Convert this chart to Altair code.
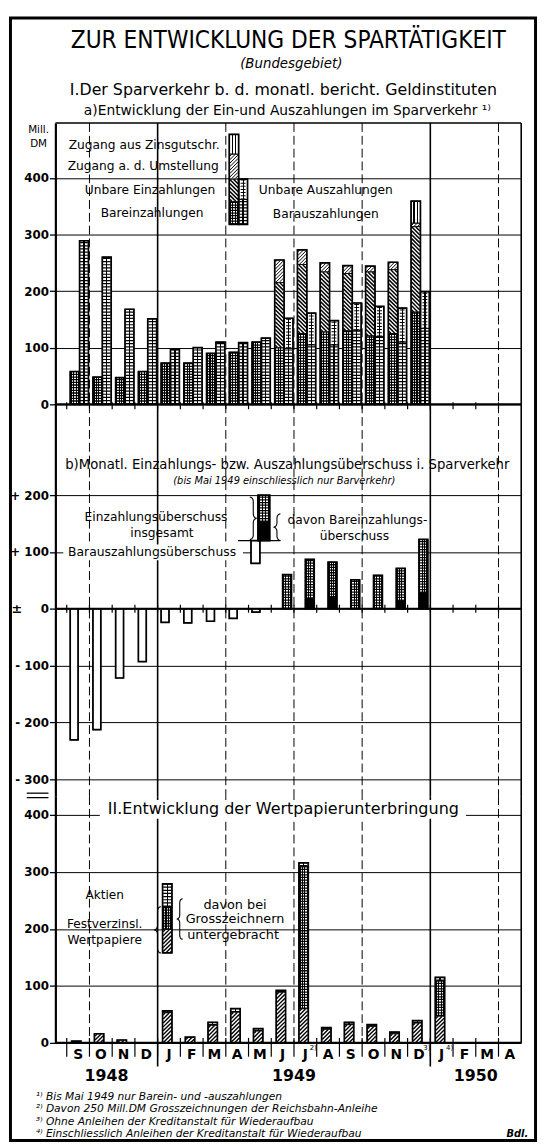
import altair as alt
import numpy as np
import pandas as pd

# ------------------------------------------------------------------ values (Mill. DM)
month_labels = ["S", "O", "N", "D", "J", "F", "M", "A", "M", "J",
                "J", "A", "S", "O", "N", "D", "J", "F", "M", "A"]
month_notes = ["", "", "", "", "", "", "", "", "", "",
               "2)", "", "", "", "", "3)", "4)", "", "", ""]
year_labels = ["1948", "1949", "1950"]
year_centers = [1.25, 9.5, 17.5]
quarter_solid = [3.5, 15.5]
quarter_dashed = [0.5, 6.5, 9.5, 12.5, 18.5]

# I a) Sep 1948 - Dec 1949
bar_ein = [58, 48, 47, 58, 73, 73, 90, 92, 110, 100, 125, 128, 130, 121, 125, 163]
unbar_ein = [0, 0, 0, 0, 0, 0, 0, 0, 0, 115, 122, 106, 101, 113, 113, 151]
umstellung = [0, 0, 0, 0, 0, 0, 0, 0, 0, 40, 26, 16, 14, 10, 13, 6]
zinsgutschr = [0, 0, 0, 0, 0, 0, 0, 0, 0, 0, 0, 0, 0, 0, 0, 39]
bar_aus = [289, 260, 168, 151, 97, 100, 110, 109, 117, 99, 105, 105, 131, 120, 110, 134]
unbar_aus = [0, 0, 0, 0, 0, 0, 0, 0, 0, 53, 56, 43, 48, 53, 60, 65]
legend_a_ein = [40, 40, 44, 35]
legend_a_aus = [44, 36]
legend_a_base = 318
legend_a_month = 7

# I b)
aus_ueberschuss = [-231, -213, -122, -93, -24, -25, -22, -17, -6]   # Sep 48 - May 49
ein_ueberschuss = [60, 87, 82, 51, 59, 71, 122]                       # Jun 49 - Dec 49
bar_ein_ueberschuss = [0, 18, 20, 0, 0, 14, 28]
legend_b_base = 120
legend_b_ein = [33, 47]
legend_b_aus = -40
legend_b_month = 8

# II  Sep 1948 - Jan 1950
festverz = [3, 16, 5, 0, 53, 10, 31, 54, 21, 89, 60, 24, 32, 29, 16, 35, 47]
grosszeichner = [0, 0, 0, 0, 0, 0, 0, 0, 0, 0, 250, 0, 0, 0, 0, 0, 62]
aktien = [0, 0, 0, 0, 3, 0, 5, 6, 4, 3, 6, 3, 4, 3, 3, 4, 6]
legend_c = [41, 40, 40]
legend_c_base = 158
legend_c_month = 4

footnotes = [
    "¹⁾ Bis Mai 1949 nur Barein- und -auszahlungen",
    "²⁾ Davon 250 Mill.DM Grosszeichnungen der Reichsbahn-Anleihe",
    "³⁾ Ohne Anleihen der Kreditanstalt für Wiederaufbau",
    "⁴⁾ Einschliesslich Anleihen der Kreditanstalt für Wiederaufbau",
]

# ------------------------------------------------------------------ geometry
FONT = "DejaVu Sans"
LEFT = 55.0
W = 472.0
XMIN, XMAX = -1.0, 19.5
KX = W / (XMAX - XMIN)
XSC = alt.Scale(domain=[XMIN, XMAX], nice=False, zero=False)


def dx(px):
    return XMIN + (px - LEFT) / KX


def pxx(x):
    return LEFT + (x - XMIN) * KX


def off(p):
    return p / KX


def make_axis(values, label_expr=None):
    kw = dict(values=values, title=None, grid=True, gridColor="black", gridWidth=1, gridOpacity=1,
              domain=True, domainColor="black", domainWidth=2.2, ticks=True, tickColor="black",
              tickWidth=1.3, tickSize=6, labelFont=FONT, labelFontSize=12, labelFontWeight="bold",
              labelColor="black", labelPadding=1, labelFlush=False, labelOverlap=False)
    if label_expr:
        kw["labelExpr"] = label_expr
    return alt.Axis(**kw)


class Panel:
    def __init__(self, top, h, ymin, ymax, axis):
        self.top, self.h, self.ymin, self.ymax = top, h, ymin, ymax
        self.ky = h / (ymax - ymin)
        self.ysc = alt.Scale(domain=[ymin, ymax], nice=False, zero=False)
        self.axis = axis

    def dy(self, py):
        return self.ymax - (py - self.top) / self.ky

    def X(self, f):
        return alt.X(f, type="quantitative", scale=XSC, axis=None)

    def Y(self, f):
        return alt.Y(f, type="quantitative", scale=self.ysc, axis=self.axis)

    def zpx(self):
        return self.ymax * self.ky


PA = Panel(116, 285, 0, 497, make_axis([0, 100, 200, 300, 400]))
PB = Panel(401, 397, -330, 360, make_axis(
    [-300, -200, -100, 0, 100, 200],
    "datum.value > 0 ? '+ ' + datum.value : (datum.value < 0 ? '- ' + abs(datum.value) : '0')"))
PC = Panel(798, 250, 0, 433, make_axis([0, 100, 200, 300, 400]))


# ------------------------------------------------------------------ patterns
def stripes(base, line, edges):
    st = [(0, base)]
    for a, b in edges:
        st += [(a, base), (a, line), (b, line), (b, base)]
    st.append((1, base))
    return alt.LinearGradient(gradient="linear", x1=0, x2=1, y1=0, y2=0,
                              stops=[alt.GradientStop(offset=o, color=c) for o, c in st])


G_DOTS = stripes("black", "white", [(0.17, 0.31), (0.43, 0.57), (0.69, 0.83)])
G_GRID = stripes("white", "black", [(0.43, 0.57)])
G_VL = stripes("white", "black", [(0.24, 0.4), (0.6, 0.76)])
G_LAD = stripes("white", "black", [(0.45, 0.57)])

PATTERNS = {
    "dots": dict(fill=G_DOTS, dash=[1.3, 1.4], dw=-1.2),
    "grid": dict(fill=G_GRID, dash=[1.2, 2.0], dw=-1.2),
    "vlines": dict(fill=G_VL),
    "ladder": dict(fill=G_LAD, dash=[1.0, 2.2], dw=5),
    "hback": dict(fill="white", hatch=("back", 4.0, 1.5)),
    "hfwd": dict(fill="white", hatch=("fwd", 3.5, 1.0)),
    "hfwd2": dict(fill="white", hatch=("fwd", 4.0, 1.4)),
    "white": dict(fill="white"),
    "black": dict(fill="black"),
}


def seg(kind, xc, dl, dr, y1, y2, bar):
    return dict(kind=kind, x1=xc + off(dl), x2=xc + off(dr), xc=xc + off((dl + dr) / 2),
                y1=min(y1, y2), y2=max(y1, y2), bar=bar, w=dr - dl)


def stack(kinds, vals, xc, dl, dr, bar, base=0):
    out, y = [], base
    for k, v in zip(kinds, vals):
        if v > 0:
            out.append(seg(k, xc, dl, dr, y, y + v, bar))
            y += v
    return out


def hatch_lines(P, s, direction, step):
    X0 = (s["x1"] - XMIN) * KX + 0.6
    X1 = (s["x2"] - XMIN) * KX - 0.6
    Y0 = (s["y1"] - P.ymin) * P.ky + 0.4
    Y1 = (s["y2"] - P.ymin) * P.ky - 0.4
    out = []
    if X1 <= X0 or Y1 <= Y0:
        return out
    if direction == "back":
        c = X0 + Y0 + step / 2
        while c < X1 + Y1:
            lo, hi = max(X0, c - Y1), min(X1, c - Y0)
            if hi > lo:
                out.append((lo, c - lo, hi, c - hi))
            c += step
    else:
        c = X0 - Y1 + step / 2
        while c < X1 - Y0:
            lo, hi = max(X0, c + Y0), min(X1, c + Y1)
            if hi > lo:
                out.append((lo, lo - c, hi, hi - c))
            c += step
    return [dict(hx1=XMIN + a / KX, hy1=P.ymin + b / P.ky,
                 hx2=XMIN + cc / KX, hy2=P.ymin + d / P.ky) for a, b, cc, d in out]


def bar_layers(P, segs):
    df = pd.DataFrame(segs)
    layers = []
    for kind, spec in PATTERNS.items():
        d = df[df.kind == kind].copy()
        if d.empty:
            continue
        layers.append(alt.Chart(d).mark_rect(fill=spec["fill"], strokeWidth=0).encode(
            x=P.X("x1"), x2=alt.X2("x2"), y=P.Y("y1"), y2=alt.Y2("y2")))
        if "dash" in spec:
            d["sw"] = d["w"] + spec["dw"] if spec["dw"] < 0 else spec["dw"]
            layers.append(alt.Chart(d).mark_rule(strokeDash=spec["dash"], color="black").encode(
                x=P.X("xc"), y=P.Y("y1"), y2=alt.Y2("y2"),
                strokeWidth=alt.StrokeWidth("sw:Q", scale=None)))
        if "hatch" in spec:
            direction, step, sw = spec["hatch"]
            hl = []
            for _, s in d.iterrows():
                hl += hatch_lines(P, s, direction, step)
            if hl:
                layers.append(alt.Chart(pd.DataFrame(hl)).mark_rule(color="black", strokeWidth=sw).encode(
                    x=P.X("hx1"), y=P.Y("hy1"), x2=alt.X2("hx2"), y2=alt.Y2("hy2")))
    layers.append(alt.Chart(df).mark_rect(fillOpacity=0, stroke="black", strokeWidth=0.8).encode(
        x=P.X("x1"), x2=alt.X2("x2"), y=P.Y("y1"), y2=alt.Y2("y2")))
    bars = df.groupby("bar").agg(x1=("x1", "min"), x2=("x2", "max"),
                                 y1=("y1", "min"), y2=("y2", "max")).reset_index()
    layers.append(alt.Chart(bars).mark_rect(fillOpacity=0, stroke="black", strokeWidth=1.7).encode(
        x=P.X("x1"), x2=alt.X2("x2"), y=P.Y("y1"), y2=alt.Y2("y2")))
    return layers


def axis_layer(P, values):
    return alt.Chart(pd.DataFrame({"v": values})).mark_rule(opacity=0).encode(y=P.Y("v"))


def vlines(P, extend_solid=0):
    return [
        alt.Chart(pd.DataFrame({"x": quarter_dashed})).mark_rule(
            color="black", strokeWidth=1, strokeDash=[9, 4]).encode(
            x=P.X("x"), y=alt.value(0), y2=alt.value(P.h)),
        alt.Chart(pd.DataFrame({"x": quarter_solid})).mark_rule(color="black", strokeWidth=1.6).encode(
            x=P.X("x"), y=alt.value(0), y2=alt.value(P.h + extend_solid)),
        alt.Chart(pd.DataFrame({"x": [XMAX]})).mark_rule(color="black", strokeWidth=1.6).encode(
            x=P.X("x"), y=alt.value(0), y2=alt.value(P.h)),
    ]


def zero_line(P, up, down, sw=2.0):
    z = P.zpx()
    ticks = pd.DataFrame({"x": [i + 0.5 for i in range(-1, 19)]})
    return [
        alt.Chart(pd.DataFrame({"y": [0]})).mark_rule(color="black", strokeWidth=sw).encode(
            y=P.Y("y"), x=alt.value(0), x2=alt.value(W)),
        alt.Chart(ticks).mark_rule(color="black", strokeWidth=1.2).encode(
            x=P.X("x"), y=alt.value(z - up), y2=alt.value(z + down)),
    ]


def text_layer(P, rows, **kw):
    df = pd.DataFrame({"x": [dx(r[0]) for r in rows], "y": [P.dy(r[1]) for r in rows],
                       "t": [r[2] for r in rows]})
    base = dict(font=FONT, fontSize=12, color="black", align="center", baseline="middle")
    base.update(kw)
    return alt.Chart(df).mark_text(**base).encode(x=P.X("x"), y=P.Y("y"), text=alt.Text("t:N"))


def white_box(P, x0, x1, y0, y1):
    df = pd.DataFrame({"x1": [dx(x0)], "x2": [dx(x1)], "y1": [P.dy(y1)], "y2": [P.dy(y0)]})
    return alt.Chart(df).mark_rect(fill="white", strokeWidth=0).encode(
        x=P.X("x1"), x2=alt.X2("x2"), y=P.Y("y1"), y2=alt.Y2("y2"))


def braces(P, specs):
    rows = []
    for bid, (x_arm, x_tip, y_top, y_bot) in enumerate(specs):
        xm = (x_arm + x_tip) / 2
        yc = (y_top + y_bot) / 2
        r = min(abs(x_tip - x_arm) / 2 + 1, (y_bot - y_top) / 4)
        top = []
        for t in np.linspace(0, np.pi / 2, 7):
            top.append((x_arm - (x_arm - xm) * np.sin(t), y_top + r * (1 - np.cos(t))))
        for t in np.linspace(0, np.pi / 2, 7):
            top.append((xm - (xm - x_tip) * (1 - np.cos(t)), yc - r + r * np.sin(t)))
        bottom = [(px, 2 * yc - py) for px, py in reversed(top[:-1])]
        for o, (px, py) in enumerate(top + bottom):
            rows.append(dict(id=bid, o=o, x=dx(px), y=P.dy(py)))
    return alt.Chart(pd.DataFrame(rows)).mark_line(color="black", strokeWidth=1.1).encode(
        x=P.X("x"), y=P.Y("y"), order=alt.Order("o:Q"), detail=alt.Detail("id:N"))


# ------------------------------------------------------------------ panel I a
segs_a = []
for i in range(16):
    segs_a += stack(["dots", "hback", "hfwd", "vlines"],
                    [bar_ein[i], unbar_ein[i], umstellung[i], zinsgutschr[i]], i, -8, 1.5, f"e{i}")
    segs_a += stack(["grid", "ladder"], [bar_aus[i], unbar_aus[i]], i, 1.5, 10.5, f"a{i}")
segs_a += stack(["dots", "hback", "hfwd", "vlines"], legend_a_ein, legend_a_month, -8, 1.5, "le",
                base=legend_a_base)
segs_a += stack(["grid", "ladder"], legend_a_aus, legend_a_month, 1.5, 10.5, "la", base=legend_a_base)

frame = alt.Chart(pd.DataFrame({"x1": [dx(9.5)], "x2": [dx(541.5)],
                                "y1": [PA.dy(1147)], "y2": [PA.dy(9.5)]})).mark_rect(
    fillOpacity=0, stroke="black", strokeWidth=3).encode(
    x=PA.X("x1"), x2=alt.X2("x2"), y=PA.Y("y1"), y2=alt.Y2("y2"))

top_border = alt.Chart(pd.DataFrame({"y": [PA.ymax]})).mark_rule(color="black", strokeWidth=1.6).encode(
    y=PA.Y("y"), x=alt.value(0), x2=alt.value(W))

layers_a = [axis_layer(PA, [0, 100, 200, 300, 400]), frame, top_border] + vlines(PA) + bar_layers(PA, segs_a)
layers_a += zero_line(PA, 2, 5, 2.2)
layers_a += [
    text_layer(PA, [(291, 33, "ZUR ENTWICKLUNG DER SPARTÄTIGKEIT")],
               font="DejaVu Sans Condensed, DejaVu Sans", fontSize=24.5, fontWeight=300),
    text_layer(PA, [(294, 56, "(Bundesgebiet)")], fontSize=13.5, fontStyle="italic"),
    text_layer(PA, [(286, 83, "I.Der Sparverkehr b. d. monatl. bericht. Geldinstituten")], fontSize=16),
    text_layer(PA, [(290, 104, "a)Entwicklung der Ein-und Auszahlungen im Sparverkehr ¹⁾")], fontSize=14),
    text_layer(PA, [(38, 123, "Mill."), (38, 137, "DM")], fontSize=10.5),
    text_layer(PA, [(145, 138, "Zugang aus Zinsgutschr."), (144, 160, "Zugang a. d. Umstellung"),
                    (151, 184, "Unbare Einzahlungen"), (153, 207, "Bareinzahlungen"),
                    (329, 184, "Unbare Auszahlungen"), (329, 208, "Barauszahlungen")], fontSize=12.4),
]
panel_a = alt.layer(*layers_a).properties(width=W, height=PA.h)

# ------------------------------------------------------------------ panel I b
segs_b = []
for i, v in enumerate(aus_ueberschuss):
    segs_b.append(seg("white", i, -8, 0, v, 0, f"n{i}"))
for j, (v, bv) in enumerate(zip(ein_ueberschuss, bar_ein_ueberschuss)):
    i = 9 + j
    segs_b += stack(["black", "dots"], [bv, v - bv], i, 0, 9, f"p{i}")
segs_b += stack(["black", "dots"], legend_b_ein, legend_b_month, -2, 10, "lp", base=legend_b_base)
segs_b.append(seg("white", legend_b_month, -9, 0, legend_b_base + legend_b_aus, legend_b_base, "ln"))

leg_base = alt.Chart(pd.DataFrame({"x1": [dx(240)], "x2": [dx(283)], "y": [legend_b_base]})).mark_rule(
    color="black", strokeWidth=1.2).encode(x=PB.X("x1"), x2=alt.X2("x2"), y=PB.Y("y"))
axis_break = alt.Chart(pd.DataFrame({"x1": [dx(26)] * 2, "x2": [dx(48)] * 2,
                                     "y": [PB.dy(795), PB.dy(799.5)]})).mark_rule(
    color="black", strokeWidth=1.3).encode(x=PB.X("x1"), x2=alt.X2("x2"), y=PB.Y("y"))

layers_b = [axis_layer(PB, [-300, -200, -100, 0, 100, 200])]
layers_b += vlines(PB)
layers_b += [white_box(PB, 63, 245, 543, 559), leg_base]
layers_b += bar_layers(PB, segs_b)
layers_b += zero_line(PB, 4, 4, 1.8)
layers_b += [
    axis_break,
    text_layer(PB, [(290, 463, "b)Monatl. Einzahlungs- bzw. Auszahlungsüberschuss  i. Sparverkehr")],
               fontSize=13.4),
    text_layer(PB, [(287, 479, "(bis Mai 1949 einschliesslich nur Barverkehr)")], fontSize=10,
               fontStyle="italic"),
    text_layer(PB, [(157, 515, "Einzahlungsüberschuss"), (163, 531, "insgesamt"),
                    (361, 518, "davon Bareinzahlungs-"), (358, 534, "überschuss")], fontSize=12.4),
    text_layer(PB, [(153, 551, "Barauszahlungsüberschuss")], fontSize=12.5),
    text_layer(PB, [(16, 608, "±")], fontSize=13, fontWeight="bold"),
    braces(PB, [(252, 259, 495, 538), (283, 276, 512, 539)]),
]
panel_b = alt.layer(*layers_b).properties(width=W, height=PB.h)

# ------------------------------------------------------------------ panel II
segs_c = []
for i in range(len(festverz)):
    segs_c += stack(["hfwd2", "dots", "grid"], [festverz[i], grosszeichner[i], aktien[i]],
                    i, -6.5, 3, f"c{i}")
segs_c += stack(["hfwd2", "dots", "grid"], legend_c, legend_c_month, -6.5, 3, "lc", base=legend_c_base)

sep = alt.Chart(pd.DataFrame({"x": [i + 0.5 for i in range(-1, 19)]})).mark_rule(
    color="black", strokeWidth=1.2).encode(x=PC.X("x"), y=alt.value(PC.h - 5), y2=alt.value(PC.h + 14))

layers_c = [axis_layer(PC, [0, 100, 200, 300, 400])]
layers_c += vlines(PC, extend_solid=24)
layers_c += [white_box(PC, 100, 471, 802, 821)]
layers_c += bar_layers(PC, segs_c)
layers_c += zero_line(PC, 0, 0, 2.2)
layers_c += [
    sep,
    text_layer(PC, [(286, 811, "II.Entwicklung der Wertpapierunterbringung")], fontSize=16.2),
    text_layer(PC, [(105, 898, "Aktien"), (105, 928, "Festverzinsl."), (105, 944, "Wertpapiere")],
               fontSize=12.3),
    text_layer(PC, [(237, 908, "davon bei"), (237, 923, "Grosszeichnern"), (235, 939, "untergebracht")],
               fontSize=13),
    braces(PC, [(162, 155, 910, 957), (184, 178, 902, 943)]),
    text_layer(PC, [(pxx(i), 1060, m) for i, m in enumerate(month_labels)], fontSize=14, fontWeight="bold"),
    text_layer(PC, [(pxx(i) + 8, 1053, n) for i, n in enumerate(month_notes) if n], fontSize=7),
    text_layer(PC, [(pxx(x), 1082, y) for x, y in zip(year_centers, year_labels)], fontSize=16,
               fontWeight="bold"),
    text_layer(PC, [(35, 1103 + k * 12.4, t) for k, t in enumerate(footnotes)], fontSize=10.8,
               fontStyle="italic", align="left"),
    text_layer(PC, [(523, 1140, "Bdl.")], fontSize=10, fontStyle="italic", fontWeight="bold"),
]
panel_c = alt.layer(*layers_c).properties(width=W, height=PC.h)

chart = alt.vconcat(panel_a, panel_b, panel_c, spacing=0, bounds="flush", padding=0,
                    background="white").configure_view(stroke="transparent")

chart.save("out.html", embed_options={"renderer": "svg", "actions": False})
